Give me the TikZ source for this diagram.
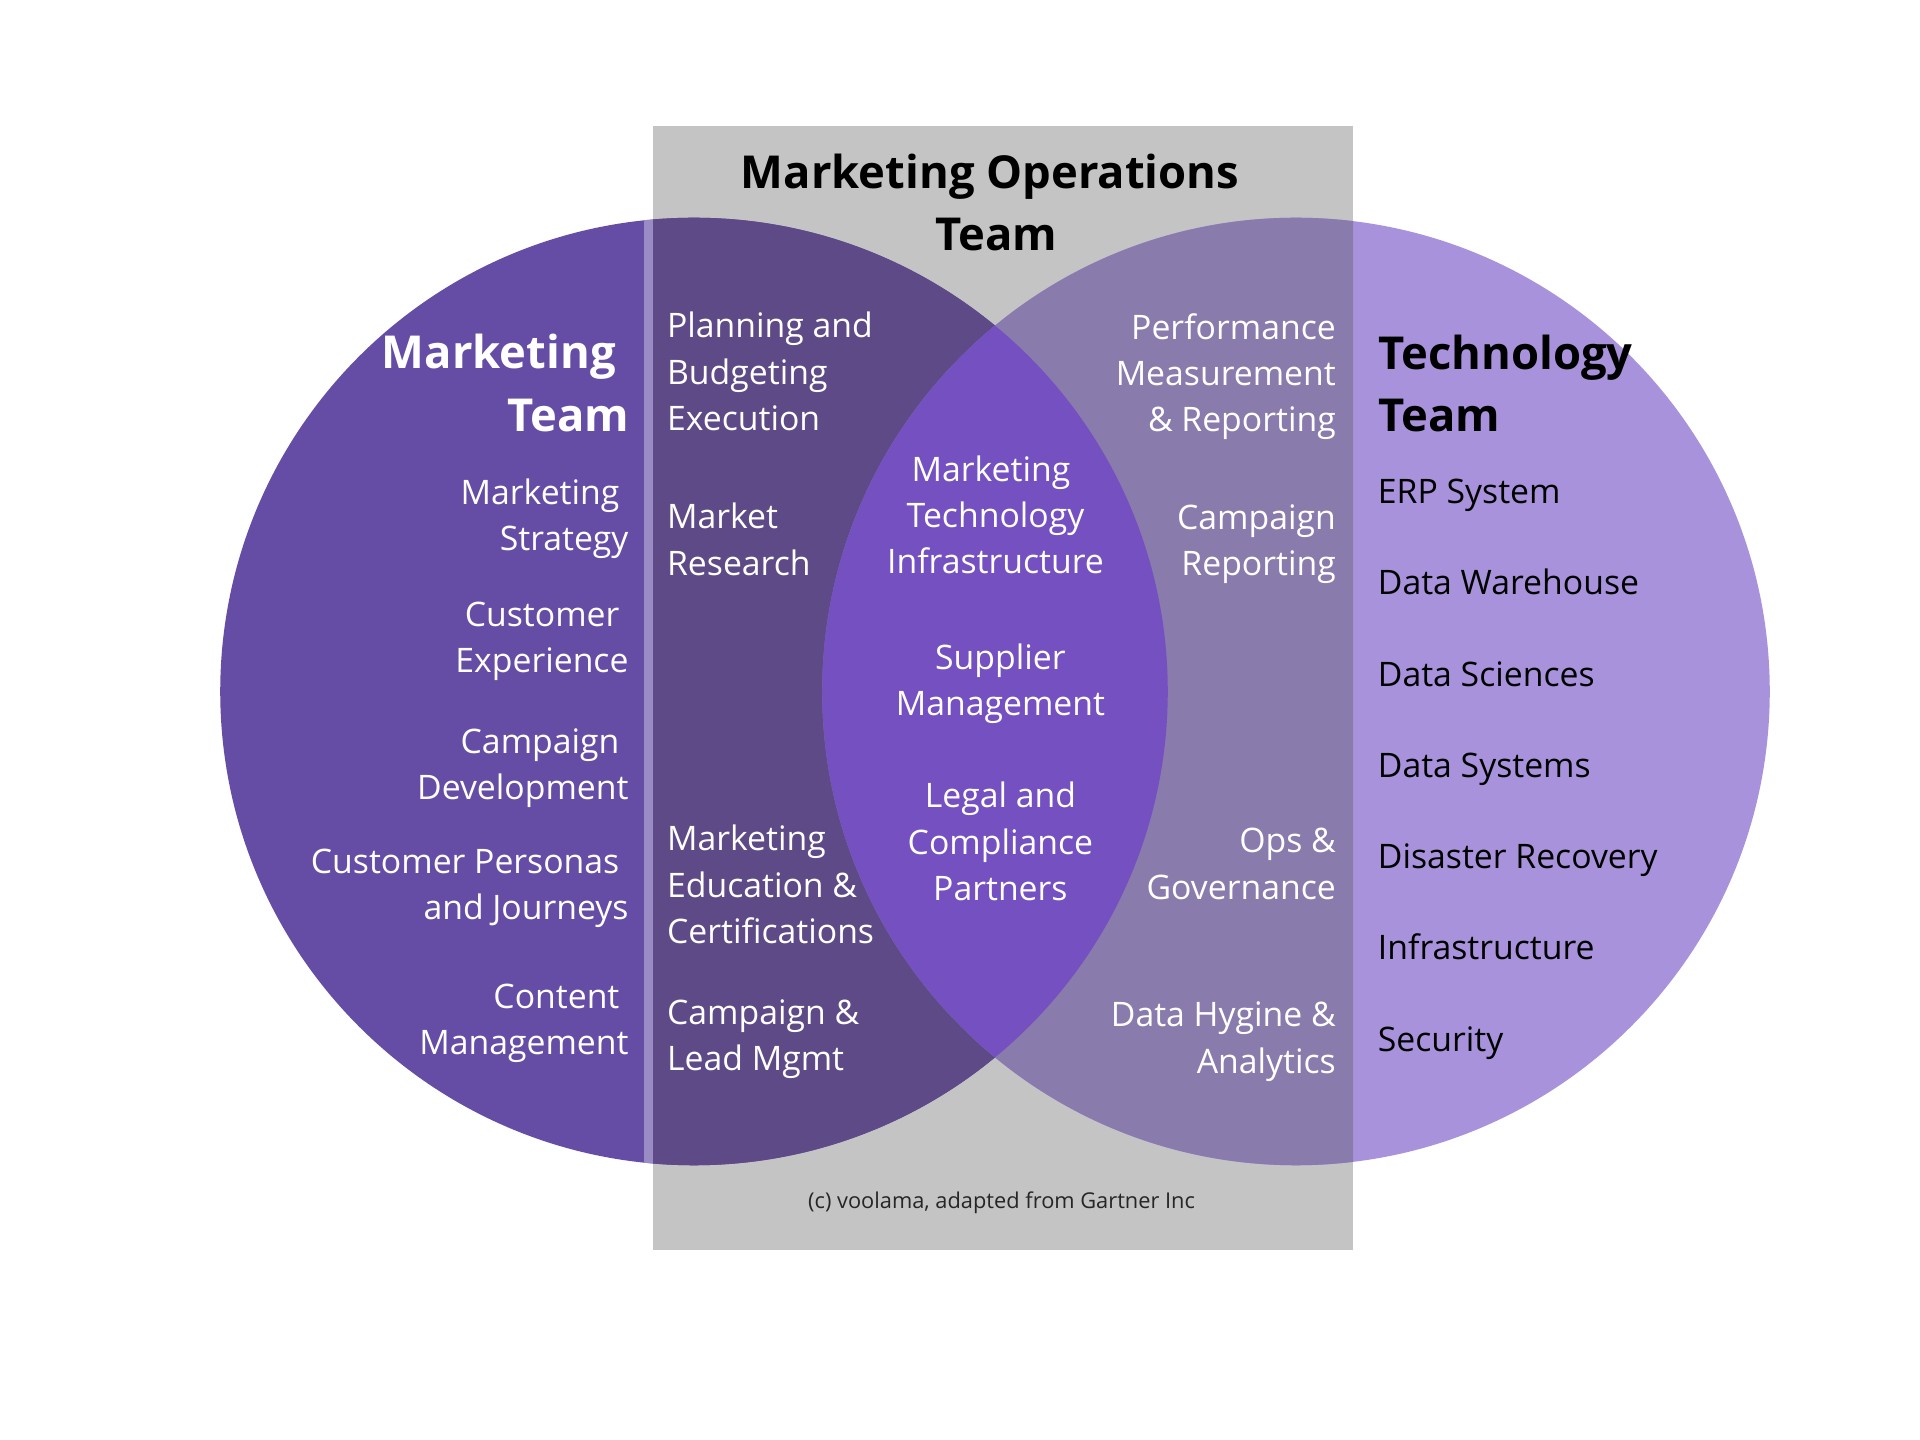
\documentclass[tikz,border=0pt]{standalone}
\usepackage{fontspec}
\setmainfont{Open Sans}
\definecolor{greybg}{HTML}{C4C4C4}
\definecolor{lcol}{HTML}{654DA5}
\definecolor{rcol}{HTML}{A892DC}
\definecolor{lin}{HTML}{5D4A86}
\definecolor{rin}{HTML}{8A7BAD}
\definecolor{lenscol}{HTML}{7450C0}
\definecolor{stripcol}{HTML}{9A8BC4}
\begin{document}
\begin{tikzpicture}[x=0.01cm,y=-0.01cm,
  body/.style={text=white, font=\fontsize{9.6}{13.2}\selectfont, inner sep=0pt,
    execute at begin node=\strut, execute at end node=\strut},
  dark/.style={body, text=black},
  title/.style={inner sep=0pt, font=\fontsize{12.9}{17.8}\selectfont\bfseries,
    execute at begin node=\strut, execute at end node=\strut},
  note/.style={inner sep=0pt, text=black!85, font=\fontsize{6.2}{8}\selectfont}]
\useasboundingbox (0,0) rectangle (1920,1440);
\fill[white] (0,0) rectangle (1920,1440);
% shapes
\fill[greybg] (653,126) rectangle (1353,1250);
\fill[lcol] (694,691.5) circle[radius=4.735cm];
\fill[rcol] (1296,691.5) circle[radius=4.735cm];
\begin{scope}
  \clip (653,126) rectangle (1353,1250);
  \fill[lin] (694,691.5) circle[radius=4.735cm];
  \fill[rin] (1296,691.5) circle[radius=4.735cm];
  \clip (694,691.5) circle[radius=4.735cm];
  \fill[lenscol] (1296,691.5) circle[radius=4.735cm];
\end{scope}
\begin{scope}
  \clip (694,691.5) circle[radius=4.735cm];
  \fill[stripcol] (644,100) rectangle (653,1300);
\end{scope}
% titles
\node[title, align=center] (mot) at (996,211.5) {Marketing Operations\kern.26em\\Team};
\node[title, text=white, align=right, anchor=east] (mt) at (630,392) {Marketing\kern.3em\\Team};
\node[title, text=black, align=left, anchor=west] (tt) at (1377.6,392.5) {Technology\\Team};
% left column
\node[body, align=right, anchor=east] (l1) at (629.2,521.6) {Marketing\kern.27em\\Strategy};
\node[body, align=right, anchor=east] (l2) at (629.2,644) {Customer\kern.27em\\Experience};
\node[body, align=right, anchor=east] (l3) at (629.2,771) {Campaign\kern.27em\\Development};
\node[body, align=right, anchor=east] (l4) at (629.2,891.4) {Customer Personas\kern.27em\\and Journeys};
\node[body, align=right, anchor=east] (l5) at (629.2,1026.5) {Content\kern.27em\\Management};
% second column
\node[body, align=left, anchor=west] (m1) at (666.4,378.3) {Planning and\\Budgeting\\Execution};
\node[body, align=left, anchor=west] (m2) at (666.4,546.1) {Market\\Research};
\node[body, align=left, anchor=west] (m3) at (666.4,891.4) {Marketing\\Education \&\\Certifications};
\node[body, align=left, anchor=west] (m4) at (666.4,1042) {Campaign \&\\Lead Mgmt};
% centre column
\node[body, align=center] (c1) at (995.5,521.6) {Marketing\kern.27em\\Technology\\Infrastructure};
\node[body, align=center] (c2) at (1000.4,686.9) {Supplier\\Management};
\node[body, align=center] (c3) at (1000.4,848.5) {Legal and\\Compliance\\Partners};
% fourth column
\node[body, align=right, anchor=east] (r1) at (1336.5,379.5) {Performance\\Measurement\\\& Reporting};
\node[body, align=right, anchor=east] (r2) at (1336.5,547.3) {Campaign\\Reporting};
\node[body, align=right, anchor=east] (r3) at (1336.5,870.6) {Ops \&\\Governance};
\node[body, align=right, anchor=east] (r4) at (1336.5,1044.5) {Data Hygine \&\\Analytics};
% technology column
\node[dark, anchor=west] (t1) at (1377.2,494.7) {ERP System};
\node[dark, anchor=west] (t2) at (1377.2,585.3) {Data Warehouse};
\node[dark, anchor=west] (t3) at (1377.2,677.2) {Data Sciences};
\node[dark, anchor=west] (t4) at (1377.2,767.8) {Data Systems};
\node[dark, anchor=west] (t5) at (1377.2,859.6) {Disaster Recovery};
\node[dark, anchor=west] (t6) at (1377.2,950.2) {Infrastructure};
\node[dark, anchor=west] (t7) at (1377.2,1042.1) {Security};
% footnote
\node[note] (fn) at (1001.6,1202.5) {(c) voolama, adapted from Gartner Inc};
\end{tikzpicture}
\end{document}
